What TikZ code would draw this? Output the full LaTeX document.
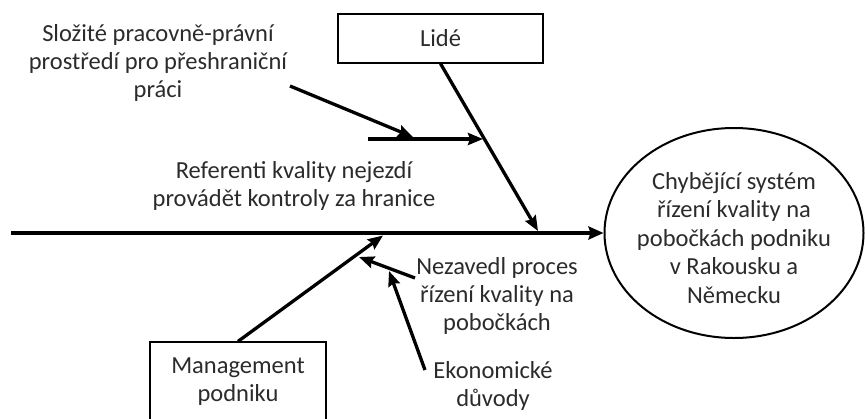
\documentclass[tikz,border=0pt]{standalone}
\usepackage{fontspec}
\setmainfont{Carlito}
\usetikzlibrary{shapes.geometric,arrows.meta}

\definecolor{inkgray}{HTML}{2B2B2B}

\tikzset{
  txt/.style={align=center, text=inkgray, inner sep=0pt,
    font=\fontsize{24.5}{28}\selectfont},
  catbox/.style={txt, draw=black, line width=1.2pt, rectangle},
  effectshape/.style={draw=black, line width=2pt, ellipse, inner sep=0pt},
  spine/.style={line width=3.8pt, -{Stealth[length=15pt,width=13pt,inset=2pt]}},
  bone/.style={line width=3.3pt, -{Stealth[length=15pt,width=12pt,inset=2pt]}},
}

\begin{document}
\begin{tikzpicture}[x=1pt,y=-1pt]
  \useasboundingbox (0,0) rectangle (865,418);

  % effect: the outline, and its text set a little below the centre
  \node[effectshape, minimum width=259pt, minimum height=210pt] (effect) at (734,233) {};
  \node[txt, font=\fontsize{24.5}{28.5}\selectfont] (effecttext) at (734,238)
    {Chybějící systém\\řízení kvality na\\pobočkách podniku\\v Rakousku a\\Německu};

  % category boxes
  \node[catbox, minimum width=205pt, minimum height=49pt] (people) at (440.5,38.5) {Lidé};
  \begin{scope}
    \clip (0,0) rectangle (865,418);
    \node[catbox, minimum width=176pt, minimum height=80pt] (mgmt) at (238,382)
      {Management\\podniku};
  \end{scope}

  % cause labels
  \node[txt] (t1) at (158,63) {Složité pracovně-právní\\prostředí pro přeshraniční\\práci};
  \node[txt] (t2) at (294,186) {Referenti kvality nejezdí\\provádět kontroly za hranice};
  \node[txt] (t3) at (497,296) {Nezavedl proces\\řízení kvality na\\pobočkách};
  \node[txt] (t4) at (493,386) {Ekonomické\\důvody};

  % points on the bones
  \coordinate (tail) at (11,233);
  \coordinate (pj) at (538,231);
  \coordinate (hb) at (368,139);
  \coordinate (hj) at (483,139);
  \coordinate (sa) at (290,86);
  \coordinate (st) at (413,137);
  \coordinate (mj) at (383,235.5);
  \coordinate (na) at (415,278);
  \coordinate (nj) at (359,257);
  \coordinate (ea) at (425,370);
  \coordinate (ej) at (389,271);

  % spine
  \draw[spine] (tail) -- (effect.west);

  % bones
  \draw[bone] (people.south) -- (pj);
  \draw[bone] (hb) -- (hj);
  \draw[bone] (sa) -- (st);
  \draw[bone] (mgmt.north) -- (mj);
  \draw[bone] (na) -- (nj);
  \draw[bone] (ea) -- (ej);
\end{tikzpicture}
\end{document}
